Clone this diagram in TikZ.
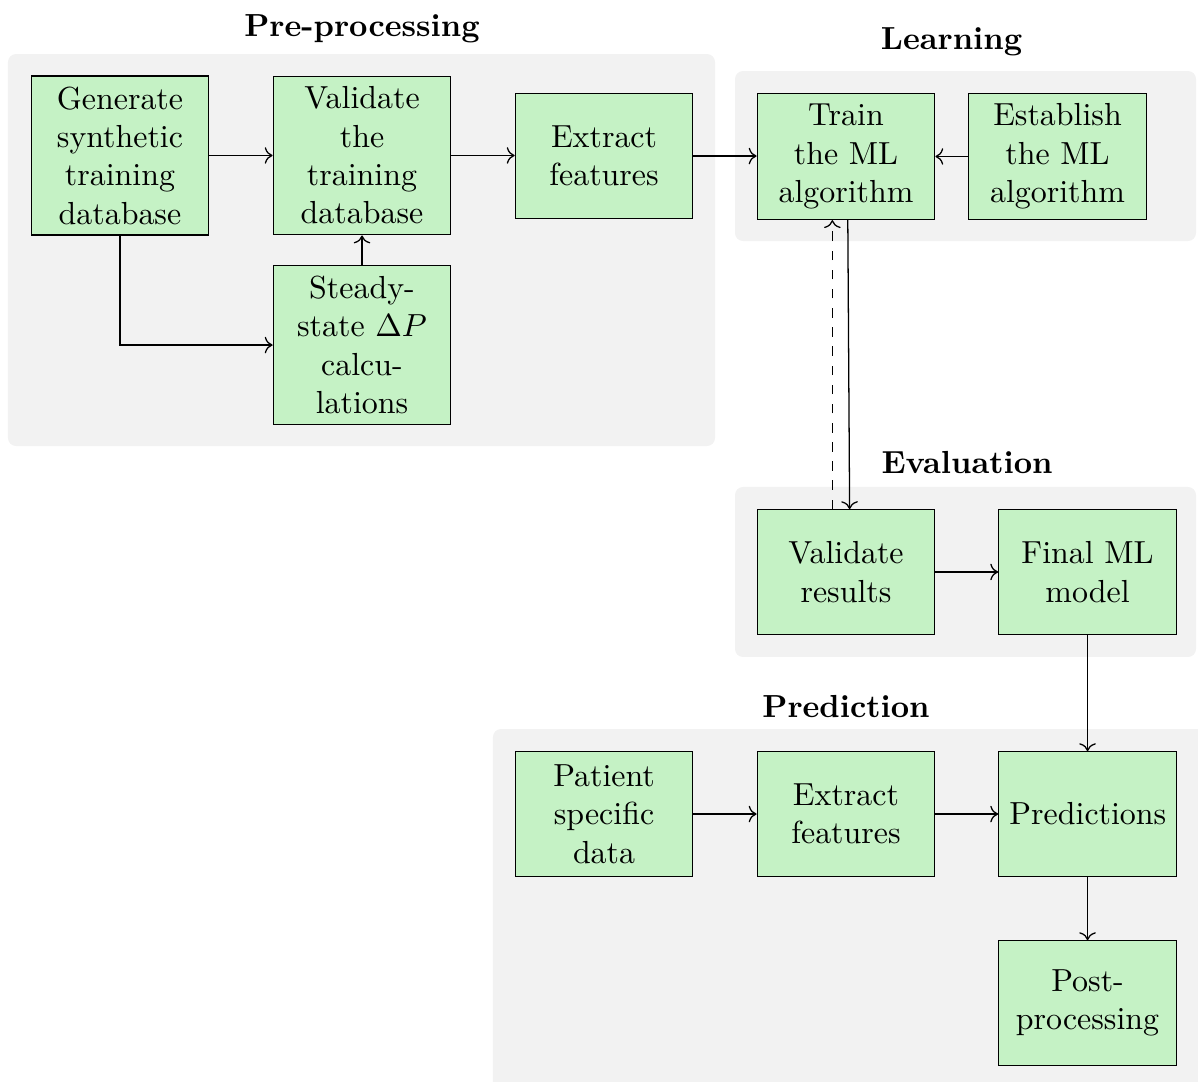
\documentclass[tikz,border=0pt]{standalone}
\usepackage{tikz}
\usetikzlibrary{arrows.meta}
\definecolor{boxgreen}{RGB}{197,242,197}
\definecolor{panelgray}{RGB}{242,242,242}

\begin{document}
\begin{tikzpicture}[
    stepbox/.style={draw, fill=boxgreen, align=center, text width=1.72cm, minimum height=1.37cm},
    panel/.style={fill=panelgray, rounded corners=2.5pt},
    title/.style={anchor=base, font=\bfseries}]
    \useasboundingbox (0, 0) rectangle (13.191, -11.903);
    \fill[panel] (0.088, -0.595) rectangle (7.873, -4.911);
    \fill[panel] (8.093, -0.782) rectangle (13.169, -2.654);
    \fill[panel] (8.093, -5.362) rectangle (13.169, -7.234);
    \fill[panel] (5.428, -8.027) rectangle (13.4, -12.2);
    \node[title] (pretitle) at (3.986, -0.407) {Pre-processing};
    \node[title] (learntitle) at (10.477, -0.540) {Learning};
    \node[title] (evaltitle) at (10.648, -5.219) {Evaluation};
    \node[title] (predtitle) at (9.315, -7.895) {Prediction};
    \node[stepbox] (gen) at (1.321, -1.712) {Generate synthetic training database};
    \node[stepbox] (valtrain) at (3.986, -1.712) {Validate the training database};
    \node[stepbox] (steady) at (3.986, -3.799) {Steady-state $\Delta P$ calculations};
    \node[stepbox] (extract) at (6.651, -1.718) {Extract features};
    \node[stepbox] (train) at (9.315, -1.723) {Train the ML algorithm};
    \node[stepbox] (establish) at (11.644, -1.723) {Establish the ML algorithm};
    \node[stepbox] (valres) at (9.315, -6.298) {Validate results};
    \node[stepbox] (final) at (11.975, -6.298) {Final ML model};
    \node[stepbox] (patient) at (6.651, -8.963) {Patient specific data};
    \node[stepbox] (extract2) at (9.315, -8.963) {Extract features};
    \node[stepbox] (predict) at (11.975, -8.963) {Predictions};
    \node[stepbox] (post) at (11.975, -11.044) {Post-processing};
    \draw[->] (gen.east |- valtrain) -- (valtrain);
    \draw[->] (gen) |- (steady);
    \draw[->] (steady) -- (valtrain);
    \draw[->] (valtrain.east) -- (valtrain.east -| extract.west);
    \draw[->] (extract) -- (extract -| train.west);
    \draw[->] (establish) -- (train);
    \draw[->] ([xshift=0.02cm]train.south) -- ([xshift=0.04cm]valres.north);
    \draw[->, dashed] ([xshift=-0.15cm]valres.north) -- ([xshift=-0.15cm]train.south);
    \draw[->] (valres) -- (final);
    \draw[->] (final) -- (predict);
    \draw[->] (patient) -- (extract2);
    \draw[->] (extract2) -- (predict);
    \draw[->] (predict) -- (post);
\end{tikzpicture}
\end{document}
